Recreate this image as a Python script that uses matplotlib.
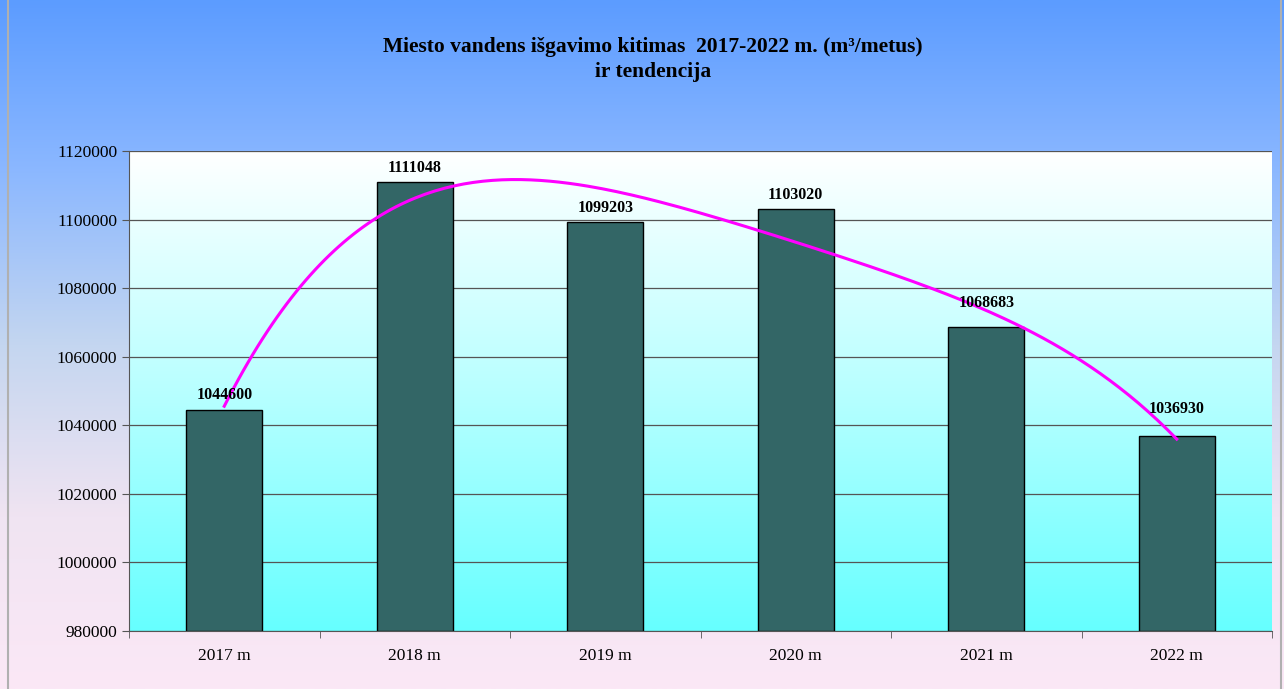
import numpy as np
import matplotlib.pyplot as plt
from matplotlib.colors import LinearSegmentedColormap

years = ['2017 m', '2018 m', '2019 m', '2020 m', '2021 m', '2022 m']
values = [1044600, 1111048, 1099203, 1103020, 1068683, 1036930]
yticks = [980000, 1000000, 1020000, 1040000, 1060000, 1080000, 1100000, 1120000]

plt.rcParams['font.family'] = ['Liberation Serif', 'DejaVu Serif']

fig = plt.figure(figsize=(12.84, 6.89), dpi=100)

# figure background gradient: blue at top, pinkish at bottom
bg = fig.add_axes([0, 0, 1, 1], zorder=-10)
bg_cmap = LinearSegmentedColormap.from_list(
    'bg', ['#5c9cff', '#8cb8ff', '#c4d6f0', '#f0e4f2', '#fbe8f6'])
bg.imshow(np.linspace(0, 1, 256).reshape(-1, 1), aspect='auto', cmap=bg_cmap,
          extent=[0, 1, 0, 1])
bg.axvline(0.0065, color='#b0b0b0', lw=1.5)
bg.axvline(0.9975, color='#b0b0b0', lw=1.5)
bg.set_xlim(0, 1)
bg.set_ylim(0, 1)
bg.axis('off')

ax = fig.add_axes([129 / 1284, 1 - 631 / 689, (1272 - 129) / 1284, (631 - 151) / 689])
ax.set_facecolor('none')

x = np.arange(1, len(values) + 1)
ax.set_xlim(0.5, len(values) + 0.5)
ax.set_ylim(980000, 1120000)

# plot area gradient: white at top, cyan at bottom
pa_cmap = LinearSegmentedColormap.from_list('pa', ['#66ffff', '#b8ffff', '#ffffff'])
ax.imshow(np.linspace(0, 1, 256).reshape(-1, 1), aspect='auto', cmap=pa_cmap,
          origin='lower', extent=[0.5, len(values) + 0.5, 980000, 1120000], zorder=0)

for t in yticks:
    ax.axhline(t, color='#555555', lw=0.9, zorder=1)

ax.bar(x, [v - 980000 for v in values], bottom=980000, width=0.4,
       color='#336666', edgecolor='black', lw=1.0, zorder=2)

# labels for the last two bars sit higher (moved clear of the trend line)
lift = [1800, 1800, 1800, 1800, 4600, 5400]
for xi, v, dy in zip(x, values, lift):
    ax.text(xi, v + dy, str(v), ha='center', va='bottom', fontsize=11.5,
            fontweight='bold', zorder=4)

# polynomial trend line (order 4)
coef = np.polyfit(x, values, 4)
xs = np.linspace(1, len(values), 200)
ax.plot(xs, np.polyval(coef, xs), color='#ff00ff', lw=2.2, zorder=3)

ax.set_yticks(yticks)
ax.set_yticklabels([str(t) for t in yticks], fontsize=12.5)
ax.set_xticks(x)
ax.set_xticklabels(years, fontsize=12.5)
ax.set_xticks(np.arange(0.5, len(values) + 1), minor=True)
ax.tick_params(axis='x', which='major', length=0, pad=12)
ax.tick_params(axis='x', which='minor', length=5, color='#555555')
ax.tick_params(axis='y', length=5, color='#555555')
for side in ['top', 'right']:
    ax.spines[side].set_visible(False)
ax.spines['left'].set_color('#555555')
ax.spines['bottom'].set_color('#555555')

fig.text(653 / 1284, 1 - 47 / 689, 'Miesto vandens išgavimo kitimas  2017-2022 m. (m³/metus)',
         ha='center', va='center', fontsize=15.5, fontweight='bold')
fig.text(653 / 1284, 1 - 72 / 689, 'ir tendencija', ha='center', va='center',
         fontsize=15.5, fontweight='bold')

fig.savefig('out.png', dpi=100)
